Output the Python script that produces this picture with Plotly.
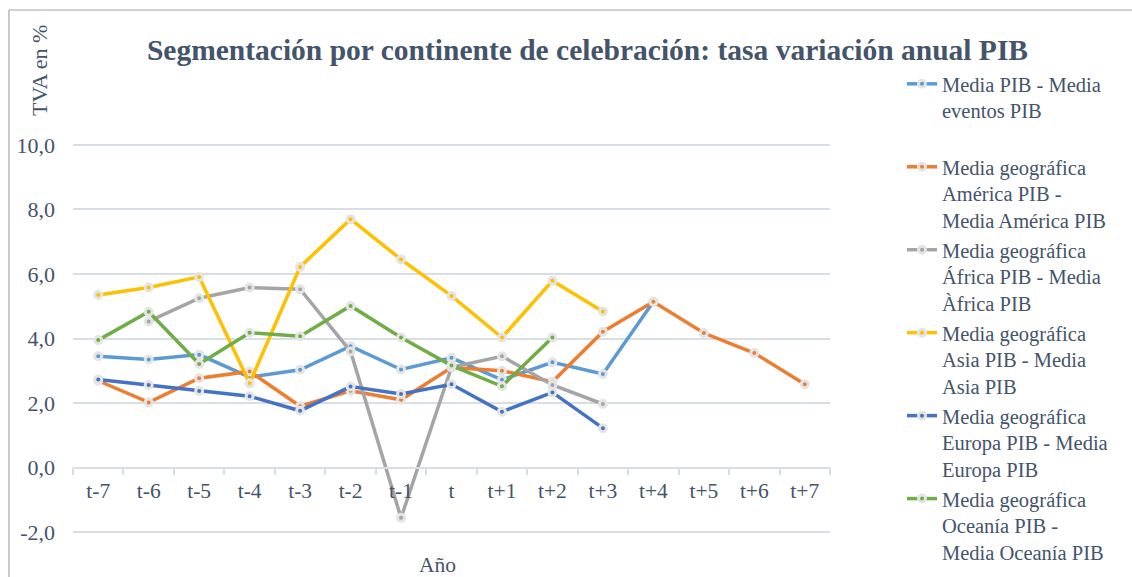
import plotly.graph_objects as go

categories = ["t-7", "t-6", "t-5", "t-4", "t-3", "t-2", "t-1", "t",
              "t+1", "t+2", "t+3", "t+4", "t+5", "t+6", "t+7"]

media_eventos = [3.45, 3.35, 3.50, 2.80, 3.03, 3.76, 3.04, 3.40, 2.72, 3.26, 2.90, 5.14, None, None, None]
america = [2.69, 2.02, 2.77, 2.98, 1.90, 2.38, 2.10, 3.10, 3.00, 2.66, 4.21, 5.14, 4.17, 3.55, 2.58]
africa = [None, 4.53, 5.25, 5.58, 5.53, 3.60, -1.56, 3.11, 3.45, 2.56, 1.97, None, None, None, None]
asia = [5.35, 5.58, 5.91, 2.61, 6.22, 7.70, 6.45, 5.32, 4.03, 5.79, 4.84, None, None, None, None]
europa = [2.73, 2.56, 2.37, 2.21, 1.76, 2.51, 2.28, 2.58, 1.73, 2.33, 1.22, None, None, None, None]
oceania = [3.95, 4.83, 3.21, 4.18, 4.07, 5.01, 4.03, 3.16, 2.52, 4.03, None, None, None, None, None]

series_names = [
    "Media PIB - Media<br>eventos PIB<br> ",
    "Media geográfica<br>América PIB -<br>Media América PIB",
    "Media geográfica<br>África PIB - Media<br>Àfrica PIB",
    "Media geográfica<br>Asia PIB - Media<br>Asia PIB",
    "Media geográfica<br>Europa PIB - Media<br>Europa PIB",
    "Media geográfica<br>Oceanía PIB -<br>Media Oceanía PIB",
]
series_values = [media_eventos, america, africa, asia, europa, oceania]
series_colors = ["#5B9BD5", "#ED7D31", "#A5A5A5", "#FFC000", "#4472C4", "#70AD47"]

y_tickvals = [-2, 0, 2, 4, 6, 8, 10]
y_ticktext = ["-2,0", "0,0", "2,0", "4,0", "6,0", "8,0", "10,0"]

TEXT = "#44546A"
FONT = "Liberation Serif, Times New Roman, serif"
GRID = "#D9DDE5"

W, H = 1132, 577
L, R, T, B = 73, 830, 143, 534
YMIN, YMAX = -2.06, 10.06


def px_x(p):
    return (p - L) / (R - L)


def px_y(p):
    return (B - p) / (B - T)


fig = go.Figure()
for name, vals, col in zip(series_names, series_values, series_colors):
    fig.add_trace(go.Scatter(
        x=categories, y=vals, name=name, mode="lines+markers",
        line=dict(color=col, width=3.5),
        marker=dict(color=col, size=7, line=dict(color="#E4E4E4", width=3)),
    ))

fig.update_layout(
    width=W, height=H,
    margin=dict(l=L, r=W - R, t=T, b=H - B, autoexpand=False),
    paper_bgcolor="white", plot_bgcolor="white",
    font=dict(family=FONT, color=TEXT, size=21),
    title=dict(
        text="<b>Segmentación por continente de celebración: tasa variación anual PIB</b>",
        font=dict(family=FONT, size=29.5, color=TEXT),
        x=587.5 / W, xref="container", xanchor="center",
        y=1 - 50 / H, yref="container", yanchor="middle",
    ),
    xaxis=dict(
        type="category", categoryorder="array", categoryarray=categories,
        anchor="free", position=(0 - YMIN) / (YMAX - YMIN),
        showgrid=False, showline=True, linecolor=GRID, linewidth=1.5,
        ticks="outside", tickson="boundaries", ticklen=7, tickcolor=GRID, tickwidth=1.5,
        ticklabelstandoff=4,
        tickfont=dict(family=FONT, size=21.5, color=TEXT),
        range=[-0.5, len(categories) - 0.5],
    ),
    yaxis=dict(
        range=[YMIN, YMAX], tickvals=y_tickvals, ticktext=y_ticktext,
        showgrid=True, gridcolor=GRID, gridwidth=1.5, zeroline=False,
        showline=False, ticks="", ticklabelstandoff=17,
        tickfont=dict(family=FONT, size=22, color=TEXT),
    ),
    legend=dict(
        x=px_x(902), xanchor="left",
        yref="container", y=1 - 64 / H, yanchor="top",
        maxheight=577,
        font=dict(family=FONT, size=20.5, color=TEXT),
        valign="top", bgcolor="rgba(0,0,0,0)", traceorder="normal",
    ),
    annotations=[
        dict(text="TVA en %", textangle=-90, xref="paper", yref="paper",
             x=px_x(40), y=px_y(71), showarrow=False,
             font=dict(family=FONT, size=22, color=TEXT),
             xanchor="center", yanchor="middle"),
        dict(text="Año", xref="paper", yref="paper",
             x=px_x(437), y=px_y(565), showarrow=False,
             font=dict(family=FONT, size=21.5, color=TEXT),
             xanchor="center", yanchor="middle"),
    ],
    shapes=[
        dict(type="line", xref="paper", yref="paper", x0=px_x(9), x1=px_x(1140),
             y0=px_y(10), y1=px_y(10), line=dict(color="#A6A6A6", width=1.2)),
        dict(type="line", xref="paper", yref="paper", x0=px_x(9), x1=px_x(9),
             y0=px_y(10), y1=px_y(590), line=dict(color="#A6A6A6", width=1.2)),
    ],
)

fig.write_html("out.html", config={"displayModeBar": False},
               post_script="document.body.style.margin='0';")
